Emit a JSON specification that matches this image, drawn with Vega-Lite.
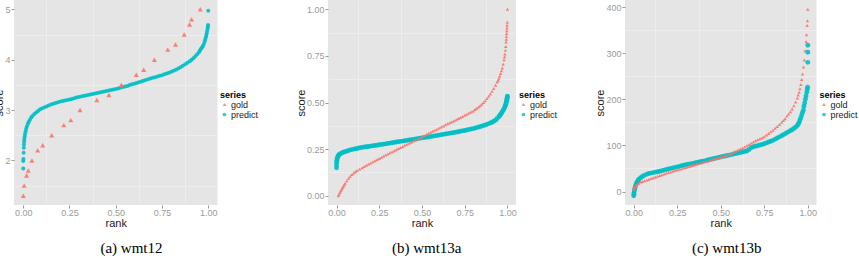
{
"$schema":"https://vega.github.io/schema/vega-lite/v6.json",
"padding":{"left":-7,"top":0,"right":0,"bottom":0},
"spacing":36,
"datasets":{
"a":[
{"rank":0,"score":1.84,"series":"predict"},{"rank":0,"score":1.99,"series":"predict"},{"rank":0.001,"score":2.03,"series":"predict"},{"rank":0.002,"score":2.15,"series":"predict"},{"rank":0.003,"score":2.25,"series":"predict"},{"rank":0.004,"score":2.32,"series":"predict"},{"rank":0.005,"score":2.38,"series":"predict"},{"rank":0.006,"score":2.43,"series":"predict"},{"rank":0.008,"score":2.48,"series":"predict"},{"rank":0.01,"score":2.53,"series":"predict"},{"rank":0.013,"score":2.58,"series":"predict"},{"rank":0.016,"score":2.63,"series":"predict"},{"rank":0.02,"score":2.68,"series":"predict"},{"rank":0.025,"score":2.73,"series":"predict"},{"rank":0.03,"score":2.77,"series":"predict"},{"rank":0.036,"score":2.81,"series":"predict"},{"rank":0.043,"score":2.85,"series":"predict"},{"rank":0.05,"score":2.88,"series":"predict"},{"rank":0.06,"score":2.92,"series":"predict"},{"rank":0.07,"score":2.95,"series":"predict"},{"rank":0.08,"score":2.98,"series":"predict"},{"rank":0.09,"score":3.01,"series":"predict"},
{"rank":0.1,"score":3.03,"series":"predict"},{"rank":0.1125,"score":3.05,"series":"predict"},{"rank":0.125,"score":3.07,"series":"predict"},{"rank":0.1375,"score":3.09,"series":"predict"},{"rank":0.15,"score":3.11,"series":"predict"},{"rank":0.1625,"score":3.125,"series":"predict"},{"rank":0.175,"score":3.14,"series":"predict"},{"rank":0.1875,"score":3.155,"series":"predict"},{"rank":0.2,"score":3.17,"series":"predict"},{"rank":0.2125,"score":3.18,"series":"predict"},{"rank":0.225,"score":3.19,"series":"predict"},{"rank":0.2375,"score":3.2,"series":"predict"},{"rank":0.25,"score":3.21,"series":"predict"},{"rank":0.2625,"score":3.22,"series":"predict"},{"rank":0.275,"score":3.235,"series":"predict"},{"rank":0.2875,"score":3.25,"series":"predict"},{"rank":0.3,"score":3.26,"series":"predict"},{"rank":0.3125,"score":3.27,"series":"predict"},{"rank":0.325,"score":3.28,"series":"predict"},{"rank":0.3375,"score":3.29,"series":"predict"},{"rank":0.35,"score":3.3,"series":"predict"},{"rank":0.3625,"score":3.31,"series":"predict"},{"rank":0.375,"score":3.32,"series":"predict"},{"rank":0.3875,"score":3.33,"series":"predict"},{"rank":0.4,"score":3.34,"series":"predict"},{"rank":0.4125,"score":3.35,"series":"predict"},{"rank":0.425,"score":3.36,"series":"predict"},{"rank":0.4375,"score":3.37,"series":"predict"},{"rank":0.45,"score":3.38,"series":"predict"},{"rank":0.4625,"score":3.39,"series":"predict"},{"rank":0.475,"score":3.4,"series":"predict"},{"rank":0.4875,"score":3.41,"series":"predict"},{"rank":0.5,"score":3.42,"series":"predict"},{"rank":0.5125,"score":3.43,"series":"predict"},{"rank":0.525,"score":3.445,"series":"predict"},{"rank":0.5375,"score":3.46,"series":"predict"},{"rank":0.55,"score":3.47,"series":"predict"},{"rank":0.5625,"score":3.48,"series":"predict"},{"rank":0.575,"score":3.495,"series":"predict"},{"rank":0.5875,"score":3.51,"series":"predict"},{"rank":0.6,"score":3.52,"series":"predict"},{"rank":0.6125,"score":3.535,"series":"predict"},{"rank":0.625,"score":3.55,"series":"predict"},{"rank":0.6375,"score":3.565,"series":"predict"},{"rank":0.65,"score":3.58,"series":"predict"},{"rank":0.6625,"score":3.595,"series":"predict"},{"rank":0.675,"score":3.61,"series":"predict"},{"rank":0.6875,"score":3.625,"series":"predict"},{"rank":0.7,"score":3.64,"series":"predict"},{"rank":0.7125,"score":3.65,"series":"predict"},{"rank":0.725,"score":3.665,"series":"predict"},{"rank":0.7375,"score":3.68,"series":"predict"},{"rank":0.75,"score":3.69,"series":"predict"},{"rank":0.7625,"score":3.71,"series":"predict"},{"rank":0.775,"score":3.725,"series":"predict"},{"rank":0.7875,"score":3.74,"series":"predict"},{"rank":0.8,"score":3.76,"series":"predict"},{"rank":0.8125,"score":3.78,"series":"predict"},{"rank":0.825,"score":3.8,"series":"predict"},{"rank":0.8375,"score":3.825,"series":"predict"},{"rank":0.85,"score":3.85,"series":"predict"},{"rank":0.8625,"score":3.88,"series":"predict"},{"rank":0.875,"score":3.91,"series":"predict"},{"rank":0.8875,"score":3.94,"series":"predict"},{"rank":0.9,"score":3.97,"series":"predict"},
{"rank":0.91,"score":4.0,"series":"predict"},{"rank":0.92,"score":4.03,"series":"predict"},{"rank":0.93,"score":4.07,"series":"predict"},{"rank":0.94,"score":4.11,"series":"predict"},{"rank":0.95,"score":4.15,"series":"predict"},{"rank":0.955,"score":4.18,"series":"predict"},{"rank":0.96,"score":4.21,"series":"predict"},{"rank":0.965,"score":4.235,"series":"predict"},{"rank":0.97,"score":4.26,"series":"predict"},{"rank":0.975,"score":4.3,"series":"predict"},{"rank":0.98,"score":4.35,"series":"predict"},{"rank":0.983,"score":4.39,"series":"predict"},{"rank":0.986,"score":4.43,"series":"predict"},{"rank":0.989,"score":4.47,"series":"predict"},{"rank":0.991,"score":4.51,"series":"predict"},{"rank":0.993,"score":4.55,"series":"predict"},{"rank":0.995,"score":4.59,"series":"predict"},{"rank":0.997,"score":4.63,"series":"predict"},{"rank":0.998,"score":4.66,"series":"predict"},{"rank":0.999,"score":4.69,"series":"predict"},{"rank":1,"score":4.97,"series":"predict"},
{"rank":0,"score":1.3,"series":"gold"},{"rank":0.005,"score":1.5,"series":"gold"},{"rank":0.018,"score":1.7,"series":"gold"},{"rank":0.027,"score":1.8,"series":"gold"},{"rank":0.047,"score":2.0,"series":"gold"},{"rank":0.078,"score":2.2,"series":"gold"},{"rank":0.105,"score":2.3,"series":"gold"},{"rank":0.154,"score":2.5,"series":"gold"},{"rank":0.219,"score":2.7,"series":"gold"},{"rank":0.257,"score":2.8,"series":"gold"},{"rank":0.307,"score":3.0,"series":"gold"},{"rank":0.398,"score":3.2,"series":"gold"},{"rank":0.463,"score":3.3,"series":"gold"},{"rank":0.53,"score":3.5,"series":"gold"},{"rank":0.611,"score":3.7,"series":"gold"},{"rank":0.651,"score":3.8,"series":"gold"},{"rank":0.709,"score":4.0,"series":"gold"},{"rank":0.781,"score":4.2,"series":"gold"},{"rank":0.823,"score":4.3,"series":"gold"},{"rank":0.87,"score":4.5,"series":"gold"},{"rank":0.899,"score":4.7,"series":"gold"},{"rank":0.91,"score":4.8,"series":"gold"},{"rank":0.957,"score":5.0,"series":"gold"}
],
"b":[
{"rank":0,"score":0.15,"series":"predict"},{"rank":0,"score":0.165,"series":"predict"},{"rank":0.001,"score":0.18,"series":"predict"},{"rank":0.002,"score":0.19,"series":"predict"},{"rank":0.004,"score":0.2,"series":"predict"},{"rank":0.007,"score":0.208,"series":"predict"},{"rank":0.01,"score":0.214,"series":"predict"},{"rank":0.015,"score":0.22,"series":"predict"},{"rank":0.02,"score":0.224,"series":"predict"},{"rank":0.03,"score":0.229,"series":"predict"},{"rank":0.04,"score":0.233,"series":"predict"},{"rank":0.05,"score":0.236,"series":"predict"},
{"rank":0.0625,"score":0.24,"series":"predict"},{"rank":0.075,"score":0.2435,"series":"predict"},{"rank":0.0875,"score":0.247,"series":"predict"},{"rank":0.1,"score":0.25,"series":"predict"},{"rank":0.1125,"score":0.252,"series":"predict"},{"rank":0.125,"score":0.2545,"series":"predict"},{"rank":0.1375,"score":0.257,"series":"predict"},{"rank":0.15,"score":0.259,"series":"predict"},{"rank":0.1625,"score":0.261,"series":"predict"},{"rank":0.175,"score":0.2625,"series":"predict"},{"rank":0.1875,"score":0.264,"series":"predict"},{"rank":0.2,"score":0.266,"series":"predict"},{"rank":0.2125,"score":0.268,"series":"predict"},{"rank":0.225,"score":0.2695,"series":"predict"},{"rank":0.2375,"score":0.271,"series":"predict"},{"rank":0.25,"score":0.273,"series":"predict"},{"rank":0.2625,"score":0.275,"series":"predict"},{"rank":0.275,"score":0.2765,"series":"predict"},{"rank":0.2875,"score":0.278,"series":"predict"},{"rank":0.3,"score":0.28,"series":"predict"},{"rank":0.3125,"score":0.282,"series":"predict"},{"rank":0.325,"score":0.284,"series":"predict"},{"rank":0.3375,"score":0.286,"series":"predict"},{"rank":0.35,"score":0.288,"series":"predict"},{"rank":0.3625,"score":0.2895,"series":"predict"},{"rank":0.375,"score":0.2915,"series":"predict"},{"rank":0.3875,"score":0.293,"series":"predict"},{"rank":0.4,"score":0.295,"series":"predict"},{"rank":0.4125,"score":0.297,"series":"predict"},{"rank":0.425,"score":0.2985,"series":"predict"},{"rank":0.4375,"score":0.3,"series":"predict"},{"rank":0.45,"score":0.302,"series":"predict"},{"rank":0.4625,"score":0.304,"series":"predict"},{"rank":0.475,"score":0.306,"series":"predict"},{"rank":0.4875,"score":0.308,"series":"predict"},{"rank":0.5,"score":0.31,"series":"predict"},{"rank":0.5125,"score":0.312,"series":"predict"},{"rank":0.525,"score":0.3135,"series":"predict"},{"rank":0.5375,"score":0.315,"series":"predict"},{"rank":0.55,"score":0.317,"series":"predict"},{"rank":0.5625,"score":0.319,"series":"predict"},{"rank":0.575,"score":0.321,"series":"predict"},{"rank":0.5875,"score":0.323,"series":"predict"},{"rank":0.6,"score":0.325,"series":"predict"},{"rank":0.6125,"score":0.327,"series":"predict"},{"rank":0.625,"score":0.329,"series":"predict"},{"rank":0.6375,"score":0.331,"series":"predict"},{"rank":0.65,"score":0.333,"series":"predict"},{"rank":0.6625,"score":0.335,"series":"predict"},{"rank":0.675,"score":0.337,"series":"predict"},{"rank":0.6875,"score":0.339,"series":"predict"},{"rank":0.7,"score":0.341,"series":"predict"},{"rank":0.7125,"score":0.343,"series":"predict"},{"rank":0.725,"score":0.3455,"series":"predict"},{"rank":0.7375,"score":0.348,"series":"predict"},{"rank":0.75,"score":0.35,"series":"predict"},{"rank":0.7625,"score":0.3525,"series":"predict"},{"rank":0.775,"score":0.355,"series":"predict"},{"rank":0.7875,"score":0.3575,"series":"predict"},{"rank":0.8,"score":0.36,"series":"predict"},{"rank":0.8125,"score":0.363,"series":"predict"},{"rank":0.825,"score":0.3665,"series":"predict"},{"rank":0.8375,"score":0.37,"series":"predict"},{"rank":0.85,"score":0.373,"series":"predict"},{"rank":0.8625,"score":0.377,"series":"predict"},{"rank":0.875,"score":0.381,"series":"predict"},{"rank":0.8875,"score":0.3855,"series":"predict"},{"rank":0.9,"score":0.39,"series":"predict"},
{"rank":0.91,"score":0.394,"series":"predict"},{"rank":0.92,"score":0.399,"series":"predict"},{"rank":0.93,"score":0.405,"series":"predict"},{"rank":0.94,"score":0.414,"series":"predict"},{"rank":0.95,"score":0.424,"series":"predict"},{"rank":0.955,"score":0.43,"series":"predict"},{"rank":0.96,"score":0.436,"series":"predict"},{"rank":0.965,"score":0.443,"series":"predict"},{"rank":0.97,"score":0.45,"series":"predict"},{"rank":0.975,"score":0.458,"series":"predict"},{"rank":0.98,"score":0.467,"series":"predict"},{"rank":0.985,"score":0.477,"series":"predict"},{"rank":0.988,"score":0.484,"series":"predict"},{"rank":0.99,"score":0.49,"series":"predict"},{"rank":0.993,"score":0.5,"series":"predict"},{"rank":0.995,"score":0.508,"series":"predict"},{"rank":0.996,"score":0.512,"series":"predict"},{"rank":0.998,"score":0.522,"series":"predict"},{"rank":0.999,"score":0.528,"series":"predict"},{"rank":1,"score":0.534,"series":"predict"},
{"rank":0.01,"score":0.0,"series":"gold"},{"rank":0.015,"score":0.008,"series":"gold"},{"rank":0.02,"score":0.017,"series":"gold"},{"rank":0.025,"score":0.026,"series":"gold"},{"rank":0.03,"score":0.034,"series":"gold"},{"rank":0.035,"score":0.042,"series":"gold"},{"rank":0.04,"score":0.05,"series":"gold"},{"rank":0.045,"score":0.059,"series":"gold"},{"rank":0.05,"score":0.067,"series":"gold"},{"rank":0.06,"score":0.08,"series":"gold"},{"rank":0.07,"score":0.093,"series":"gold"},{"rank":0.08,"score":0.104,"series":"gold"},{"rank":0.09,"score":0.114,"series":"gold"},{"rank":0.1,"score":0.122,"series":"gold"},{"rank":0.11,"score":0.129,"series":"gold"},{"rank":0.12,"score":0.135,"series":"gold"},{"rank":0.135,"score":0.143,"series":"gold"},{"rank":0.15,"score":0.15,"series":"gold"},
{"rank":0.1625,"score":0.1565,"series":"gold"},{"rank":0.175,"score":0.163,"series":"gold"},{"rank":0.1875,"score":0.1695,"series":"gold"},{"rank":0.2,"score":0.176,"series":"gold"},{"rank":0.2125,"score":0.182,"series":"gold"},{"rank":0.225,"score":0.188,"series":"gold"},{"rank":0.2375,"score":0.194,"series":"gold"},{"rank":0.25,"score":0.2,"series":"gold"},{"rank":0.2625,"score":0.206,"series":"gold"},{"rank":0.275,"score":0.212,"series":"gold"},{"rank":0.2875,"score":0.218,"series":"gold"},{"rank":0.3,"score":0.224,"series":"gold"},{"rank":0.3125,"score":0.23,"series":"gold"},{"rank":0.325,"score":0.2355,"series":"gold"},{"rank":0.3375,"score":0.241,"series":"gold"},{"rank":0.35,"score":0.247,"series":"gold"},{"rank":0.3625,"score":0.253,"series":"gold"},{"rank":0.375,"score":0.2585,"series":"gold"},{"rank":0.3875,"score":0.264,"series":"gold"},{"rank":0.4,"score":0.27,"series":"gold"},{"rank":0.4125,"score":0.276,"series":"gold"},{"rank":0.425,"score":0.2815,"series":"gold"},{"rank":0.4375,"score":0.287,"series":"gold"},{"rank":0.45,"score":0.293,"series":"gold"},{"rank":0.4625,"score":0.299,"series":"gold"},{"rank":0.475,"score":0.3045,"series":"gold"},{"rank":0.4875,"score":0.31,"series":"gold"},{"rank":0.5,"score":0.316,"series":"gold"},{"rank":0.5125,"score":0.322,"series":"gold"},{"rank":0.525,"score":0.328,"series":"gold"},{"rank":0.5375,"score":0.334,"series":"gold"},{"rank":0.55,"score":0.34,"series":"gold"},{"rank":0.5625,"score":0.346,"series":"gold"},{"rank":0.575,"score":0.3515,"series":"gold"},{"rank":0.5875,"score":0.357,"series":"gold"},{"rank":0.6,"score":0.363,"series":"gold"},{"rank":0.6125,"score":0.369,"series":"gold"},{"rank":0.625,"score":0.3745,"series":"gold"},{"rank":0.6375,"score":0.38,"series":"gold"},{"rank":0.65,"score":0.386,"series":"gold"},{"rank":0.6625,"score":0.3915,"series":"gold"},{"rank":0.675,"score":0.397,"series":"gold"},{"rank":0.6875,"score":0.4025,"series":"gold"},{"rank":0.7,"score":0.408,"series":"gold"},{"rank":0.7125,"score":0.414,"series":"gold"},{"rank":0.725,"score":0.4195,"series":"gold"},{"rank":0.7375,"score":0.425,"series":"gold"},{"rank":0.75,"score":0.431,"series":"gold"},{"rank":0.7625,"score":0.437,"series":"gold"},{"rank":0.775,"score":0.443,"series":"gold"},{"rank":0.7875,"score":0.449,"series":"gold"},{"rank":0.8,"score":0.455,"series":"gold"},
{"rank":0.81,"score":0.462,"series":"gold"},{"rank":0.82,"score":0.469,"series":"gold"},{"rank":0.83,"score":0.476,"series":"gold"},{"rank":0.84,"score":0.483,"series":"gold"},{"rank":0.85,"score":0.49,"series":"gold"},{"rank":0.86,"score":0.5,"series":"gold"},{"rank":0.87,"score":0.51,"series":"gold"},{"rank":0.88,"score":0.521,"series":"gold"},{"rank":0.89,"score":0.533,"series":"gold"},{"rank":0.9,"score":0.545,"series":"gold"},{"rank":0.91,"score":0.56,"series":"gold"},{"rank":0.92,"score":0.575,"series":"gold"},{"rank":0.93,"score":0.592,"series":"gold"},{"rank":0.94,"score":0.61,"series":"gold"},{"rank":0.945,"score":0.62,"series":"gold"},{"rank":0.95,"score":0.63,"series":"gold"},{"rank":0.955,"score":0.642,"series":"gold"},{"rank":0.96,"score":0.655,"series":"gold"},{"rank":0.965,"score":0.67,"series":"gold"},{"rank":0.97,"score":0.685,"series":"gold"},{"rank":0.975,"score":0.705,"series":"gold"},{"rank":0.98,"score":0.73,"series":"gold"},{"rank":0.983,"score":0.745,"series":"gold"},{"rank":0.985,"score":0.76,"series":"gold"},{"rank":0.988,"score":0.78,"series":"gold"},{"rank":0.99,"score":0.8,"series":"gold"},{"rank":0.992,"score":0.825,"series":"gold"},{"rank":0.993,"score":0.84,"series":"gold"},{"rank":0.994,"score":0.855,"series":"gold"},{"rank":0.995,"score":0.87,"series":"gold"},{"rank":0.996,"score":0.885,"series":"gold"},{"rank":0.997,"score":0.9,"series":"gold"},{"rank":0.998,"score":0.915,"series":"gold"},{"rank":0.999,"score":0.93,"series":"gold"},{"rank":1,"score":1.0,"series":"gold"}
],
"c":[
{"rank":0,"score":-9,"series":"predict"},{"rank":0.001,"score":-6,"series":"predict"},{"rank":0.002,"score":-3,"series":"predict"},{"rank":0.004,"score":2,"series":"predict"},{"rank":0.006,"score":6,"series":"predict"},{"rank":0.009,"score":10,"series":"predict"},{"rank":0.012,"score":14,"series":"predict"},{"rank":0.016,"score":18,"series":"predict"},{"rank":0.02,"score":21,"series":"predict"},{"rank":0.025,"score":24,"series":"predict"},{"rank":0.03,"score":27,"series":"predict"},{"rank":0.04,"score":30,"series":"predict"},{"rank":0.05,"score":32.5,"series":"predict"},{"rank":0.06,"score":35,"series":"predict"},{"rank":0.075,"score":37.5,"series":"predict"},{"rank":0.0875,"score":39,"series":"predict"},{"rank":0.1,"score":40,"series":"predict"},
{"rank":0.1125,"score":41,"series":"predict"},{"rank":0.125,"score":42,"series":"predict"},{"rank":0.1375,"score":43,"series":"predict"},{"rank":0.15,"score":44,"series":"predict"},{"rank":0.1625,"score":45.25,"series":"predict"},{"rank":0.175,"score":46.5,"series":"predict"},{"rank":0.1875,"score":47.75,"series":"predict"},{"rank":0.2,"score":49,"series":"predict"},{"rank":0.2125,"score":50.1,"series":"predict"},{"rank":0.225,"score":51.25,"series":"predict"},{"rank":0.2375,"score":52.4,"series":"predict"},{"rank":0.25,"score":53.5,"series":"predict"},{"rank":0.2625,"score":54.6,"series":"predict"},{"rank":0.275,"score":55.75,"series":"predict"},{"rank":0.2875,"score":56.9,"series":"predict"},{"rank":0.3,"score":58,"series":"predict"},{"rank":0.3125,"score":59,"series":"predict"},{"rank":0.325,"score":60,"series":"predict"},{"rank":0.3375,"score":61,"series":"predict"},{"rank":0.35,"score":62,"series":"predict"},{"rank":0.3625,"score":63,"series":"predict"},{"rank":0.375,"score":64,"series":"predict"},{"rank":0.3875,"score":65,"series":"predict"},{"rank":0.4,"score":66,"series":"predict"},{"rank":0.4125,"score":67.1,"series":"predict"},{"rank":0.425,"score":68.25,"series":"predict"},{"rank":0.4375,"score":69.4,"series":"predict"},{"rank":0.45,"score":70.5,"series":"predict"},{"rank":0.4625,"score":71.6,"series":"predict"},{"rank":0.475,"score":72.75,"series":"predict"},{"rank":0.4875,"score":73.9,"series":"predict"},{"rank":0.5,"score":75,"series":"predict"},{"rank":0.5125,"score":76,"series":"predict"},{"rank":0.525,"score":77,"series":"predict"},{"rank":0.5375,"score":78,"series":"predict"},{"rank":0.55,"score":79,"series":"predict"},{"rank":0.5625,"score":80.1,"series":"predict"},{"rank":0.575,"score":81.25,"series":"predict"},{"rank":0.5875,"score":82.4,"series":"predict"},{"rank":0.6,"score":83.5,"series":"predict"},{"rank":0.6125,"score":84.6,"series":"predict"},{"rank":0.625,"score":85.75,"series":"predict"},{"rank":0.6375,"score":86.9,"series":"predict"},{"rank":0.65,"score":88,"series":"predict"},{"rank":0.6625,"score":91,"series":"predict"},{"rank":0.675,"score":95,"series":"predict"},{"rank":0.6875,"score":97,"series":"predict"},{"rank":0.7,"score":98,"series":"predict"},{"rank":0.7125,"score":99.4,"series":"predict"},{"rank":0.725,"score":100.75,"series":"predict"},{"rank":0.7375,"score":102.1,"series":"predict"},{"rank":0.75,"score":103.5,"series":"predict"},{"rank":0.7625,"score":105.4,"series":"predict"},{"rank":0.775,"score":107.25,"series":"predict"},{"rank":0.7875,"score":109.1,"series":"predict"},{"rank":0.8,"score":111,"series":"predict"},{"rank":0.8125,"score":113.5,"series":"predict"},{"rank":0.825,"score":116,"series":"predict"},{"rank":0.8375,"score":118.5,"series":"predict"},{"rank":0.85,"score":121,"series":"predict"},{"rank":0.8625,"score":123.75,"series":"predict"},{"rank":0.875,"score":126.5,"series":"predict"},{"rank":0.8875,"score":129.25,"series":"predict"},{"rank":0.9,"score":132,"series":"predict"},
{"rank":0.91,"score":134,"series":"predict"},{"rank":0.92,"score":136.5,"series":"predict"},{"rank":0.93,"score":139.5,"series":"predict"},{"rank":0.94,"score":143,"series":"predict"},{"rank":0.945,"score":146,"series":"predict"},{"rank":0.95,"score":150,"series":"predict"},{"rank":0.955,"score":155,"series":"predict"},{"rank":0.96,"score":160,"series":"predict"},{"rank":0.965,"score":166,"series":"predict"},{"rank":0.97,"score":172,"series":"predict"},{"rank":0.975,"score":177,"series":"predict"},{"rank":0.978,"score":185,"series":"predict"},{"rank":0.982,"score":192,"series":"predict"},{"rank":0.986,"score":200,"series":"predict"},{"rank":0.99,"score":207,"series":"predict"},{"rank":0.994,"score":215,"series":"predict"},{"rank":0.997,"score":221,"series":"predict"},{"rank":0.999,"score":226,"series":"predict"},{"rank":1,"score":280,"series":"predict"},{"rank":1,"score":302,"series":"predict"},{"rank":1,"score":317,"series":"predict"},
{"rank":0,"score":5,"series":"gold"},{"rank":0.005,"score":8,"series":"gold"},{"rank":0.01,"score":11,"series":"gold"},{"rank":0.015,"score":13,"series":"gold"},{"rank":0.02,"score":15,"series":"gold"},{"rank":0.03,"score":18,"series":"gold"},{"rank":0.04,"score":20.5,"series":"gold"},{"rank":0.05,"score":22,"series":"gold"},{"rank":0.0625,"score":23.5,"series":"gold"},{"rank":0.075,"score":25,"series":"gold"},{"rank":0.0875,"score":26.5,"series":"gold"},{"rank":0.1,"score":28,"series":"gold"},
{"rank":0.1125,"score":29.75,"series":"gold"},{"rank":0.125,"score":31.5,"series":"gold"},{"rank":0.1375,"score":33.25,"series":"gold"},{"rank":0.15,"score":35,"series":"gold"},{"rank":0.1625,"score":36.5,"series":"gold"},{"rank":0.175,"score":38,"series":"gold"},{"rank":0.1875,"score":39.5,"series":"gold"},{"rank":0.2,"score":41,"series":"gold"},{"rank":0.2125,"score":42.5,"series":"gold"},{"rank":0.225,"score":44,"series":"gold"},{"rank":0.2375,"score":45.5,"series":"gold"},{"rank":0.25,"score":47,"series":"gold"},{"rank":0.2625,"score":48.25,"series":"gold"},{"rank":0.275,"score":49.5,"series":"gold"},{"rank":0.2875,"score":50.75,"series":"gold"},{"rank":0.3,"score":52,"series":"gold"},{"rank":0.3125,"score":53.5,"series":"gold"},{"rank":0.325,"score":55,"series":"gold"},{"rank":0.3375,"score":56.5,"series":"gold"},{"rank":0.35,"score":58,"series":"gold"},{"rank":0.3625,"score":59.4,"series":"gold"},{"rank":0.375,"score":60.75,"series":"gold"},{"rank":0.3875,"score":62.1,"series":"gold"},{"rank":0.4,"score":63.5,"series":"gold"},{"rank":0.4125,"score":64.9,"series":"gold"},{"rank":0.425,"score":66.25,"series":"gold"},{"rank":0.4375,"score":67.6,"series":"gold"},{"rank":0.45,"score":69,"series":"gold"},{"rank":0.4625,"score":70.25,"series":"gold"},{"rank":0.475,"score":71.5,"series":"gold"},{"rank":0.4875,"score":72.75,"series":"gold"},{"rank":0.5,"score":74,"series":"gold"},{"rank":0.5125,"score":75.75,"series":"gold"},{"rank":0.525,"score":77.5,"series":"gold"},{"rank":0.5375,"score":79.25,"series":"gold"},{"rank":0.55,"score":81,"series":"gold"},{"rank":0.5625,"score":83.25,"series":"gold"},{"rank":0.575,"score":85.5,"series":"gold"},{"rank":0.5875,"score":87.75,"series":"gold"},{"rank":0.6,"score":90,"series":"gold"},{"rank":0.6125,"score":92.25,"series":"gold"},{"rank":0.625,"score":94.5,"series":"gold"},{"rank":0.6375,"score":96.75,"series":"gold"},{"rank":0.65,"score":99,"series":"gold"},{"rank":0.6625,"score":101.75,"series":"gold"},{"rank":0.675,"score":104.5,"series":"gold"},{"rank":0.6875,"score":107.25,"series":"gold"},{"rank":0.7,"score":110,"series":"gold"},{"rank":0.7125,"score":112.25,"series":"gold"},{"rank":0.725,"score":114.5,"series":"gold"},{"rank":0.7375,"score":116.75,"series":"gold"},{"rank":0.75,"score":119,"series":"gold"},{"rank":0.7625,"score":122.5,"series":"gold"},{"rank":0.775,"score":126,"series":"gold"},{"rank":0.7875,"score":129.5,"series":"gold"},{"rank":0.8,"score":133,"series":"gold"},{"rank":0.8125,"score":137,"series":"gold"},{"rank":0.825,"score":141,"series":"gold"},{"rank":0.8375,"score":145.5,"series":"gold"},{"rank":0.85,"score":150,"series":"gold"},
{"rank":0.86,"score":154,"series":"gold"},{"rank":0.87,"score":158,"series":"gold"},{"rank":0.88,"score":164,"series":"gold"},{"rank":0.89,"score":168,"series":"gold"},{"rank":0.9,"score":173,"series":"gold"},{"rank":0.91,"score":179,"series":"gold"},{"rank":0.92,"score":186,"series":"gold"},{"rank":0.93,"score":194,"series":"gold"},{"rank":0.94,"score":203,"series":"gold"},{"rank":0.945,"score":209,"series":"gold"},{"rank":0.95,"score":215,"series":"gold"},{"rank":0.955,"score":223,"series":"gold"},{"rank":0.96,"score":232,"series":"gold"},{"rank":0.965,"score":243,"series":"gold"},{"rank":0.97,"score":255,"series":"gold"},{"rank":0.975,"score":270,"series":"gold"},{"rank":0.98,"score":285,"series":"gold"},{"rank":0.985,"score":305,"series":"gold"},{"rank":0.99,"score":325,"series":"gold"},{"rank":0.993,"score":340,"series":"gold"},{"rank":0.996,"score":360,"series":"gold"},{"rank":0.998,"score":370,"series":"gold"},{"rank":1,"score":395,"series":"gold"}
]
},
"hconcat":[
{
"width":203.5,"height":205,
"data":{"name":"a"},
"title":{"text":"(a) wmt12","orient":"bottom","anchor":"middle","frame":"bounds","dx":5},
"resolve":{"axis":{"x":"independent","y":"independent"}},
"layer":[
{"mark":{"type":"point","opacity":0},
"encoding":{
"x":{"field":"rank","type":"quantitative","axis":{"orient":"top","values":[0.125,0.375,0.625,0.875],"labels":false,"ticks":false,"domain":false,"title":null,"gridColor":"#F2F2F2","gridWidth":0.6}},
"y":{"field":"score","type":"quantitative","axis":{"orient":"right","values":[1.5,2.5,3.5,4.5],"labels":false,"ticks":false,"domain":false,"title":null,"gridColor":"#F2F2F2","gridWidth":0.6}}}},
{"mark":{"type":"point","filled":true,"opacity":0.9},
"encoding":{
"x":{"field":"rank","type":"quantitative","scale":{"domain":[-0.05,1.05],"nice":false,"zero":false},"axis":{"values":[0,0.25,0.5,0.75,1],"format":".2f","title":"rank"}},
"y":{"field":"score","type":"quantitative","scale":{"domain":[1.115,5.185],"nice":false,"zero":false},"axis":{"values":[2,3,4,5],"format":"d","title":"score"}},
"color":{"field":"series","type":"nominal","scale":{"domain":["gold","predict"],"range":["#F8766D","#00BFC4"]},"legend":{"orient":"none","legendX":206,"legendY":91,"title":"series"}},
"shape":{"field":"series","type":"nominal","scale":{"domain":["gold","predict"],"range":["triangle-up","circle"]},"legend":{"orient":"none","legendX":206,"legendY":91,"title":"series"}},
"size":{"condition":{"test":"datum.series === 'gold'","value":26},"value":16}}}
]
},
{
"width":188,"height":205,
"data":{"name":"b"},
"title":{"text":"(b) wmt13a","orient":"bottom","anchor":"middle","frame":"bounds"},
"resolve":{"axis":{"x":"independent","y":"independent"}},
"layer":[
{"mark":{"type":"point","opacity":0},
"encoding":{
"x":{"field":"rank","type":"quantitative","axis":{"orient":"top","values":[0.125,0.375,0.625,0.875],"labels":false,"ticks":false,"domain":false,"title":null,"gridColor":"#F2F2F2","gridWidth":0.6}},
"y":{"field":"score","type":"quantitative","axis":{"orient":"right","values":[0.125,0.375,0.625,0.875],"labels":false,"ticks":false,"domain":false,"title":null,"gridColor":"#F2F2F2","gridWidth":0.6}}}},
{"mark":{"type":"point","filled":true,"opacity":0.9},
"encoding":{
"x":{"field":"rank","type":"quantitative","scale":{"domain":[-0.05,1.05],"nice":false,"zero":false},"axis":{"values":[0,0.25,0.5,0.75,1],"format":".2f","title":"rank"}},
"y":{"field":"score","type":"quantitative","scale":{"domain":[-0.05,1.05],"nice":false,"zero":false},"axis":{"values":[0,0.25,0.5,0.75,1],"format":".2f","title":"score"}},
"color":{"field":"series","type":"nominal","scale":{"domain":["gold","predict"],"range":["#F8766D","#00BFC4"]},"legend":{"orient":"none","legendX":191,"legendY":91,"title":"series"}},
"shape":{"field":"series","type":"nominal","scale":{"domain":["gold","predict"],"range":["triangle-up","circle"]},"legend":{"orient":"none","legendX":191,"legendY":91,"title":"series"}},
"size":{"condition":{"test":"datum.series === 'gold'","value":12},"value":24}}}
]
},
{
"width":191.5,"height":205,
"data":{"name":"c"},
"title":{"text":"(c) wmt13b","orient":"bottom","anchor":"middle","frame":"bounds"},
"resolve":{"axis":{"x":"independent","y":"independent"}},
"layer":[
{"mark":{"type":"point","opacity":0},
"encoding":{
"x":{"field":"rank","type":"quantitative","axis":{"orient":"top","values":[0.125,0.375,0.625,0.875],"labels":false,"ticks":false,"domain":false,"title":null,"gridColor":"#F2F2F2","gridWidth":0.6}},
"y":{"field":"score","type":"quantitative","axis":{"orient":"right","values":[50,150,250,350],"labels":false,"ticks":false,"domain":false,"title":null,"gridColor":"#F2F2F2","gridWidth":0.6}}}},
{"mark":{"type":"point","filled":true,"opacity":0.9},
"encoding":{
"x":{"field":"rank","type":"quantitative","scale":{"domain":[-0.05,1.05],"nice":false,"zero":false},"axis":{"values":[0,0.25,0.5,0.75,1],"format":".2f","title":"rank"}},
"y":{"field":"score","type":"quantitative","scale":{"domain":[-29.2,415.2],"nice":false,"zero":false},"axis":{"values":[0,100,200,300,400],"format":"d","title":"score"}},
"color":{"field":"series","type":"nominal","scale":{"domain":["gold","predict"],"range":["#F8766D","#00BFC4"]},"legend":{"orient":"none","legendX":194.5,"legendY":91,"title":"series"}},
"shape":{"field":"series","type":"nominal","scale":{"domain":["gold","predict"],"range":["triangle-up","circle"]},"legend":{"orient":"none","legendX":194.5,"legendY":91,"title":"series"}},
"size":{"condition":{"test":"datum.series === 'gold'","value":12},"value":24}}}
]
}
],
"resolve":{"scale":{"color":"independent","shape":"independent"},"legend":{"color":"independent","shape":"independent"}},
"config":{
"view":{"fill":"#E5E5E5","stroke":null},
"axis":{"domain":false,"gridColor":"#FFFFFF","gridWidth":1,"tickColor":"#999999","tickSize":3,"labelPadding":1,"labelColor":"#9A9A9A","labelFont":"Liberation Sans","labelFontSize":9,"titleFont":"Liberation Sans","titleFontSize":11,"titleFontWeight":"normal","titleColor":"#1A1A1A","titlePadding":0},
"axisX":{"labelPadding":0,"titlePadding":0},
"legend":{"titleFont":"Liberation Sans","titleFontSize":9,"titleFontWeight":"bold","titleColor":"#000000","titlePadding":0,"labelFont":"Liberation Sans","labelFontSize":9,"labelColor":"#222222","labelOffset":2,"symbolSize":14,"symbolStrokeWidth":0,"symbolOpacity":0.8,"rowPadding":0,"padding":0},
"title":{"font":"Liberation Serif","fontSize":15,"fontWeight":"normal","color":"#000000","offset":13}
}
}
